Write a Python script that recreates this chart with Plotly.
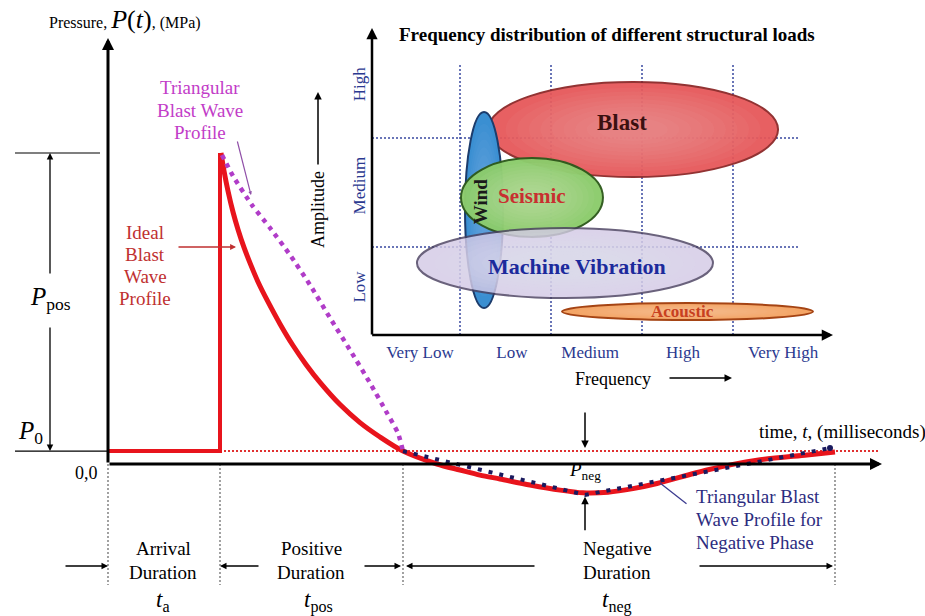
import plotly.graph_objects as go

# ---------------- data: main blast-wave chart ----------------
# time in ms, pressure in chart units (P0 = ambient)
t_step = [0, 11.2, 11.2]
p_step = [4.3, 4.3, 103.7]

t_decay = [11.3, 11.6, 12.0, 12.5, 13.0, 13.6, 14.3, 15.1, 15.9, 17.2, 18.5, 19.8, 21.2,
           23.2, 25.2, 27.2, 29.5, 32.9, 35.2, 37.2, 39.2, 42.2, 45.2, 47.5, 50.0, 52.5,
           54.9, 59.9, 64.9, 69.9, 72.7]
p_decay = [103.7, 97.7, 91.0, 84.0, 78.2, 72.2, 66.2, 60.0, 54.7, 46.7, 39.5, 33.2, 27.2,
           19.8, 13.8, 9.0, 4.3, 0.0, -2.0, -3.7, -5.0, -7.0, -8.7, -9.6, -9.4, -8.2,
           -6.5, -2.0, 1.3, 3.0, 4.0]

t_tri_pos = [11.4, 12.5, 14.4, 16.2, 18.2, 20.2, 22.2, 24.2, 26.2, 27.9, 29.0, 29.5]
p_tri_pos = [103.0, 96.0, 86.3, 78.7, 69.7, 59.7, 48.7, 38.0, 27.0, 17.0, 10.3, 4.3]

t_tri_neg = [29.5, 47.7, 72.2]
p_tri_neg = [4.3, -10.3, 5.3]

P0 = 4.3
T_ARRIVAL = 11.2
T_POS_END = 29.5
T_NEG_END = 72.7
T_MIN = 47.7
P_MIN = -9.7

# ---------------- data: inset (frequency distribution) ----------------
freq_labels = ["Very Low", "Low", "Medium", "High", "Very High"]
freq_label_pos = [0.56, 1.57, 2.43, 3.45, 4.55]
amp_labels = ["Low", "Medium", "High"]
amp_label_pos = [0.61, 1.54, 2.47]
freq_grid = [1, 2, 3, 4]
amp_grid = [1, 2]

load_names = ["Blast", "Wind", "Seismic", "Machine Vibration", "Acoustic"]
freq_lo = [1.31, 1.055, 1.011, 0.527, 2.121]
freq_hi = [4.495, 1.473, 2.571, 3.780, 4.879]
amp_lo = [1.642, 0.440, 1.092, 0.532, 0.330]
amp_hi = [2.514, 2.239, 1.817, 1.174, 0.486]

# ---------------- styles ----------------
SERIF = "Liberation Serif, Times New Roman, serif"
W, H = 925, 616
X0_PX, PX_PER_MS = 108, 10.0
Y0_PX, PX_PER_P = 464, 3.0
INSET_X0, INSET_X1, INSET_Y0, INSET_Y1 = 372, 835, 335, 28
F_ORIGIN_PX, PX_PER_F = 369, 91.0
A_ORIGIN_PX, PX_PER_A = 356, 109.0

load_styles = {
    "Blast": dict(fill="#e65557", line="#8a2424", opacity=0.93, hi="#f6a6a4"),
    "Wind": dict(fill="#3a8fd2", line="#1c3c6c", opacity=1.0, hi="#7ab8e8"),
    "Seismic": dict(fill="#8ccc6c", line="#2e5a1c", opacity=0.97, hi="#cdeab8"),
    "Machine Vibration": dict(fill="#d4cae6", line="#4a4060", opacity=0.82, hi="#ebe6f4"),
    "Acoustic": dict(fill="#f4a566", line="#a54414", opacity=1.0, hi="#f9cfa4"),
}
load_text = {
    "Blast": dict(f=2.78, a=2.14, size=23, color="#3a1010", angle=0),
    "Wind": dict(f=1.22, a=1.42, size=19, color="#1a1a1a", angle=-90),
    "Seismic": dict(f=1.79, a=1.47, size=21, color="#c83030", angle=0),
    "Machine Vibration": dict(f=2.29, a=0.82, size=22, color="#1c2a9c", angle=0),
    "Acoustic": dict(f=3.45, a=0.405, size=17, color="#c84020", angle=0),
}


def px(x):
    return x / W


def py(y):
    return 1 - y / H


fig = go.Figure()

# P0 reference (dotted red)
fig.add_trace(go.Scatter(x=[T_ARRIVAL, (880 - X0_PX) / PX_PER_MS], y=[P0, P0], mode="lines",
                         line=dict(color="#e03030", width=2, dash="2px,2px"),
                         hoverinfo="skip", showlegend=False))
# ideal blast wave (red): arrival step + decay
fig.add_trace(go.Scatter(x=t_step, y=p_step, mode="lines",
                         line=dict(color="#e8141c", width=4),
                         hoverinfo="skip", showlegend=False))
fig.add_trace(go.Scatter(x=t_decay, y=p_decay, mode="lines",
                         line=dict(color="#e8141c", width=5, shape="spline", smoothing=0.8),
                         hoverinfo="skip", showlegend=False))
# triangular negative phase (navy dots)
fig.add_trace(go.Scatter(x=t_tri_neg, y=p_tri_neg, mode="lines",
                         line=dict(color="#1a1a5e", width=4, dash="4px,7px"),
                         hoverinfo="skip", showlegend=False))
# triangular positive profile (magenta dots)
fig.add_trace(go.Scatter(x=t_tri_pos, y=p_tri_pos, mode="lines",
                         line=dict(color="#b03cc8", width=4.5, dash="4.5px,5px",
                                   shape="spline", smoothing=0.6),
                         hoverinfo="skip", showlegend=False))
# end dot of negative triangle
fig.add_trace(go.Scatter(x=[t_tri_neg[-1]], y=[p_tri_neg[-1]], mode="markers",
                         marker=dict(color="#1a1a5e", size=6),
                         hoverinfo="skip", showlegend=False))

shapes = []
# inset gridlines
for f in freq_grid:
    shapes.append(dict(type="line", xref="x2", yref="y2", x0=f, x1=f,
                       y0=(A_ORIGIN_PX - INSET_Y0) / PX_PER_A, y1=(A_ORIGIN_PX - 63) / PX_PER_A,
                       line=dict(color="#3848a0", width=1.5, dash="2px,2px"), layer="below"))
for a in amp_grid:
    shapes.append(dict(type="line", xref="x2", yref="y2", y0=a, y1=a,
                       x0=(INSET_X0 - F_ORIGIN_PX) / PX_PER_F, x1=(800 - F_ORIGIN_PX) / PX_PER_F,
                       line=dict(color="#3848a0", width=1.5, dash="2px,2px"), layer="below"))
# inset ellipses (soft lighter cores mimic the gradient fill)
for name, f0, f1, a0, a1 in zip(load_names, freq_lo, freq_hi, amp_lo, amp_hi):
    st = load_styles[name]
    shapes.append(dict(type="circle", xref="x2", yref="y2", x0=f0, x1=f1, y0=a0, y1=a1,
                       fillcolor=st["fill"], opacity=st["opacity"],
                       line=dict(color=st["line"], width=2), layer="above"))
    cf, ca = (f0 + f1) / 2, (a0 + a1) / 2
    for k in (0.44, 0.40, 0.36, 0.32, 0.28, 0.24, 0.20, 0.16, 0.12):
        hf, ha = (f1 - f0) * k, (a1 - a0) * k
        shapes.append(dict(type="circle", xref="x2", yref="y2", x0=cf - hf, x1=cf + hf,
                           y0=ca - ha, y1=ca + ha, fillcolor=st["hi"], opacity=0.08,
                           line=dict(width=0), layer="above"))

# main chart decorations
shapes.append(dict(type="line", xref="paper", yref="paper", x0=px(15), x1=px(100),
                   y0=py(153), y1=py(153), line=dict(color="black", width=1.2)))
shapes.append(dict(type="line", xref="paper", yref="y", x0=px(15), x1=px(108),
                   y0=P0, y1=P0, line=dict(color="black", width=1.2)))
for tv in [0, T_ARRIVAL, T_POS_END, T_NEG_END]:
    shapes.append(dict(type="line", xref="x", yref="y", x0=tv, x1=tv, y0=0,
                       y1=(Y0_PX - 585) / PX_PER_P,
                       line=dict(color="#707070", width=1.3, dash="2px,2px")))

ann = []


def arrow(x, y, ax, ay, xref="paper", yref="paper", axref="pixel", ayref="pixel",
          color="black", width=1.5, head=2, size=1.0):
    ann.append(dict(x=x, y=y, ax=ax, ay=ay, xref=xref, yref=yref, axref=axref, ayref=ayref,
                    text="", showarrow=True, arrowhead=head, arrowsize=size,
                    arrowwidth=width, arrowcolor=color, standoff=0, startstandoff=0))


def text(x, y, s, size=15, color="black", xref="paper", yref="paper", xanchor="center",
         yanchor="middle", angle=0, family=SERIF):
    ann.append(dict(x=x, y=y, xref=xref, yref=yref, text=s, showarrow=False,
                    xanchor=xanchor, yanchor=yanchor, textangle=angle,
                    font=dict(family=family, size=size, color=color)))


# main axes
arrow(0, (Y0_PX - 38) / PX_PER_P, 0, 0, xref="x", yref="y", axref="x", ayref="y",
      width=3, head=2, size=0.8)
arrow((882 - X0_PX) / PX_PER_MS, 0, 0, 0, xref="x", yref="y", axref="x", ayref="y",
      width=3, head=2, size=0.8)

# inset axes
f_axis = (INSET_X0 - F_ORIGIN_PX) / PX_PER_F
a_axis = (A_ORIGIN_PX - INSET_Y0) / PX_PER_A
arrow((833 - F_ORIGIN_PX) / PX_PER_F, a_axis, f_axis - 0.015, a_axis, xref="x2", yref="y2",
      axref="x2", ayref="y2", width=2.5, head=2, size=0.9)
arrow(f_axis, (A_ORIGIN_PX - INSET_Y1) / PX_PER_A, f_axis, a_axis - 0.01, xref="x2", yref="y2",
      axref="x2", ayref="y2", width=2.5, head=2, size=0.9)

# inset labels
text(px(607), py(34), "<b>Frequency distribution of different structural loads</b>", size=19)
text(px(318), py(210), "Amplitude", size=18, angle=-90)
arrow(px(318), py(92), 0, 74, width=1.5, size=1)
text(px(613), py(379), "Frequency", size=18)
arrow(px(732), py(378), -64, 0, width=1.5, size=1)
for name in load_names:
    lt = load_text[name]
    text(lt["f"], lt["a"], "<b>%s</b>" % name, size=lt["size"], color=lt["color"],
         xref="x2", yref="y2", angle=lt["angle"])

# main labels
text(px(125), py(19), "Pressure, <span style='font-size:26px'><i>P</i>(<i>t</i>)</span>, (MPa)",
     size=16)
for i, line in enumerate(["Triangular", "Blast Wave", "Profile"]):
    text(px(200), py(88 + 22 * i), line, size=19, color="#c23cc8")
for i, line in enumerate(["Ideal", "Blast", "Wave", "Profile"]):
    text(px(145), py(232 + 22 * i), line, size=19, color="#c03030")
arrow(px(236), py(247), -59, 0, color="#c03030", width=1.3, size=0.9)
arrow(px(251), py(195), -14, -55, color="#9050a8", width=1.2, size=0.6)

text(px(50), py(298), "<i>P</i><sub>pos</sub>", size=25)
arrow(px(50), py(153), 0, 122, width=1.3, size=1)
arrow(px(50), py(451), 0, -125, width=1.3, size=1)
text(px(30), py(432), "<i>P</i><sub>0</sub>", size=25)
text(px(86), py(473), "0,0", size=18)
text(px(757), py(432), "time, <i>t</i>, (milliseconds)", size=19, xanchor="left")

# negative phase
text(T_MIN, (Y0_PX - 471) / PX_PER_P, "<i>P</i><sub>neg</sub>", size=19, xref="x", yref="y")
arrow(T_MIN, P0 + 1, 0, -37, xref="x", yref="y", width=1.5, size=1)
arrow(T_MIN, P_MIN - 1.2, 0, 35, xref="x", yref="y", width=1.5, size=1)
for i, line in enumerate(["Triangular Blast", "Wave Profile for", "Negative Phase"]):
    text(px(694), py(496 + 23 * i), line, size=19, color="#2c2c80", xanchor="left")
arrow(px(660), py(483), 28, 22, color="#3c3c90", width=1.3, head=0)

# durations
y_dur = (Y0_PX - 566) / PX_PER_P
arrow(0, y_dur, -44, 0, xref="x", yref="y", width=1.3, size=1)
arrow(T_ARRIVAL, y_dur, 40, 0, xref="x", yref="y", width=1.3, size=1)
arrow(T_POS_END - 0.2, y_dur, -38, 0, xref="x", yref="y", width=1.3, size=1)
arrow(T_POS_END + 0.3, y_dur, 130, 0, xref="x", yref="y", width=1.3, size=1)
arrow(T_NEG_END - 0.2, y_dur, -135, 0, xref="x", yref="y", width=1.3, size=1)
for cx, lines, sub, sx in [(163, ["Arrival", "Duration"], "a", 163),
                           (311, ["Positive", "Duration"], "pos", 318),
                           (617, ["Negative", "Duration"], "neg", 617)]:
    for i, line in enumerate(lines):
        text(px(cx), py(548 + 24 * i), line, size=19)
    text(px(sx), py(601), "<i>t</i><sub>%s</sub>" % sub, size=23)

fig.update_layout(
    width=W, height=H, margin=dict(l=0, r=0, t=0, b=0),
    paper_bgcolor="white", plot_bgcolor="rgba(0,0,0,0)",
    showlegend=False, shapes=shapes, annotations=ann,
    font=dict(family=SERIF),
    xaxis=dict(domain=[0, 1], range=[-X0_PX / PX_PER_MS, (W - X0_PX) / PX_PER_MS],
               visible=False, fixedrange=True),
    yaxis=dict(domain=[0, 1], range=[(Y0_PX - H) / PX_PER_P, Y0_PX / PX_PER_P],
               visible=False, fixedrange=True),
    xaxis2=dict(domain=[px(INSET_X0), px(INSET_X1)], anchor="y2",
                range=[(INSET_X0 - F_ORIGIN_PX) / PX_PER_F, (INSET_X1 - F_ORIGIN_PX) / PX_PER_F],
                showgrid=False, zeroline=False, showline=False,
                tickvals=freq_label_pos, ticktext=freq_labels, ticks="",
                ticklabelstandoff=5,
                tickfont=dict(family=SERIF, size=17, color="#2b3990"), fixedrange=True),
    yaxis2=dict(domain=[py(INSET_Y0), py(INSET_Y1)], anchor="x2",
                range=[(A_ORIGIN_PX - INSET_Y0) / PX_PER_A, (A_ORIGIN_PX - INSET_Y1) / PX_PER_A],
                showgrid=False, zeroline=False, showline=False,
                tickvals=amp_label_pos, ticktext=amp_labels, ticks="", tickangle=-90,
                ticklabelstandoff=3,
                tickfont=dict(family=SERIF, size=17, color="#2b3990"), fixedrange=True),
)

fig.write_html("out.html", config={"displayModeBar": False},
               post_script="document.body.style.margin='0px';")
